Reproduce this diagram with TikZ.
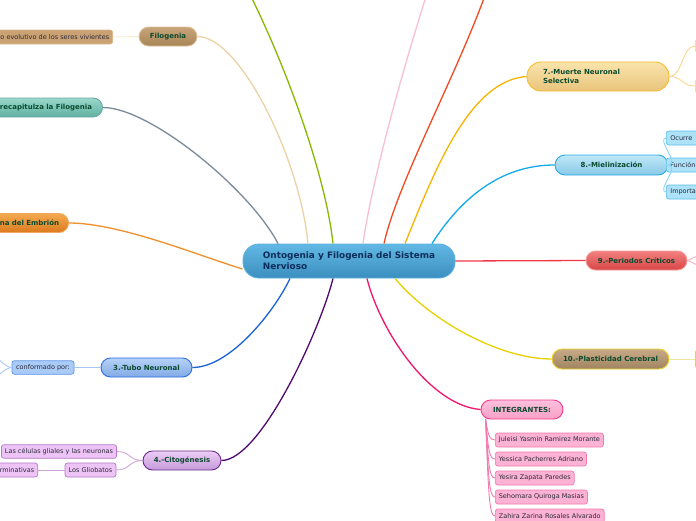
\documentclass[tikz,border=0pt]{standalone}
\usepackage{fontspec}
\setmainfont{DejaVu Sans}
\usetikzlibrary{calc}
\definecolor{tgreen}{HTML}{0B4A2E}
\definecolor{leaftext}{HTML}{2A2A3A}
\definecolor{cT}{HTML}{62B8E4}\definecolor{cB}{HTML}{3B8FC0}\definecolor{cD}{HTML}{5AB0E0}\definecolor{cText}{HTML}{0D2D5A}
\definecolor{filoT}{HTML}{C8A478}\definecolor{filoB}{HTML}{A88658}\definecolor{filoD}{HTML}{DCC09A}
\definecolor{filoL}{HTML}{C9A173}\definecolor{filoLD}{HTML}{DAB88E}
\definecolor{recT}{HTML}{9AD8CC}\definecolor{recB}{HTML}{5EB0A0}\definecolor{recD}{HTML}{70A8A8}
\definecolor{embT}{HTML}{F4AA50}\definecolor{embB}{HTML}{DC7A1E}\definecolor{embD}{HTML}{F0A860}
\definecolor{tubT}{HTML}{B6D2F6}\definecolor{tubB}{HTML}{82AAE6}\definecolor{tubD}{HTML}{2A6EE0}
\definecolor{confF}{HTML}{A9CBF8}\definecolor{confD}{HTML}{5C94E4}
\definecolor{citT}{HTML}{ECCCF6}\definecolor{citB}{HTML}{C69ADA}\definecolor{citD}{HTML}{6A2C8C}
\definecolor{citLF}{HTML}{EEC4F6}\definecolor{citLD}{HTML}{B478C8}
\definecolor{murT}{HTML}{F9E4AC}\definecolor{murB}{HTML}{E9C47C}\definecolor{murD}{HTML}{F8BC28}
\definecolor{murLF}{HTML}{FBE6B4}\definecolor{murLD}{HTML}{F8D488}
\definecolor{mieT}{HTML}{C0E8F8}\definecolor{mieB}{HTML}{88C8E6}\definecolor{mieD}{HTML}{24AAE8}
\definecolor{mieLF}{HTML}{ADE2F8}\definecolor{mieLD}{HTML}{5CBEEA}
\definecolor{perT}{HTML}{F28080}\definecolor{perB}{HTML}{D84646}\definecolor{perD}{HTML}{F49A9A}
\definecolor{plaT}{HTML}{C9AA88}\definecolor{plaB}{HTML}{A08460}\definecolor{plaD}{HTML}{E8D428}
\definecolor{intT}{HTML}{FCC0DC}\definecolor{intB}{HTML}{F8A0C8}\definecolor{intD}{HTML}{F03C8C}
\definecolor{memF}{HTML}{FCB2D4}\definecolor{memD}{HTML}{F27AB0}
\definecolor{lnFilo}{HTML}{ECD2A6}\definecolor{lnRec}{HTML}{7A8A9A}\definecolor{lnEmb}{HTML}{F0902C}
\definecolor{lnTub}{HTML}{1A62D8}\definecolor{lnCit}{HTML}{4E0A6E}\definecolor{lnGreen}{HTML}{88B800}
\definecolor{lnPink}{HTML}{F8C0D0}\definecolor{lnRed}{HTML}{F04A22}\definecolor{lnMur}{HTML}{F8B400}
\definecolor{lnMie}{HTML}{12AAEA}\definecolor{lnPer}{HTML}{F03A4A}\definecolor{lnPla}{HTML}{E8D000}
\definecolor{lnInt}{HTML}{F0166E}
\definecolor{lkFilo}{HTML}{F8EAD2}\definecolor{lkConf}{HTML}{A8C8F4}\definecolor{lkCit}{HTML}{CFA4D8}
\definecolor{lkMur}{HTML}{F8D890}\definecolor{lkMie}{HTML}{88D4F4}\definecolor{lkPer}{HTML}{F8B0C0}
\definecolor{lkPla}{HTML}{F0E8A0}\definecolor{lkMem}{HTML}{F27AB0}
\begin{document}
\begin{tikzpicture}[x=1pt,y=-1pt,
  topic/.style={draw, line width=0.9pt, inner sep=0pt, align=center,
    font=\fontsize{7}{8.8}\selectfont\bfseries, text=tgreen,
    minimum height=19pt, rounded corners=9.5pt},
  leaf/.style={draw, line width=0.7pt, rounded corners=2.5pt, inner sep=0pt,
    inner xsep=3.5pt, minimum height=13.5pt, align=center,
    font=\fontsize{6.5}{7.8}\selectfont, text=leaftext},
  conn/.style={line width=1.3pt},
  lk/.style={line width=0.9pt},
]
\useasboundingbox (0,0) rectangle (696,520);
\clip (0,0) rectangle (696,520);
\fill[white] (0,0) rectangle (696,520);

% central
\node[draw=cD, line width=0.9pt, top color=cT, bottom color=cB, rounded corners=16pt,
  minimum width=212pt, minimum height=34pt, inner sep=0pt, align=left,
  font=\fontsize{8.9}{11.2}\selectfont\bfseries, text=cText]
  (c) at (349,261) {Ontogenia y Filogenia del Sistema\\Nervioso\hphantom{ y Filogenia del Sistema}};

% main topics
\node[topic, minimum width=58pt, top color=filoT, bottom color=filoB, draw=filoD] (filo) at (168,36.5) {Filogenia};
\node[topic, anchor=east, text width=110pt, align=right, inner xsep=10.5pt, top color=recT, bottom color=recB, draw=recD] (recap) at (103,107.5) {recapitulza la Filogenia};
\node[topic, anchor=east, text width=80pt, align=right, inner xsep=9.5pt, top color=embT, bottom color=embB, draw=embD] (embr) at (69,223) {na del Embrión};
\node[topic, minimum width=91pt, top color=tubT, bottom color=tubB, draw=tubD] (tubo) at (146.5,367.5) {3.-Tubo Neuronal};
\node[topic, minimum width=78pt, top color=citT, bottom color=citB, draw=citD] (cito) at (182,460.5) {4.-Citogénesis};
\node[topic, minimum width=142pt, minimum height=29pt, rounded corners=14pt, text width=110pt, align=left, top color=murT, bottom color=murB, draw=murD] (muerte) at (598,76.5) {7.-Muerte Neuronal\\Selectiva};
\node[topic, minimum width=113pt, minimum height=20pt, rounded corners=10pt, top color=mieT, bottom color=mieB, draw=mieD] (mie) at (611.5,165) {8.-Mielinización};
\node[topic, minimum width=101pt, top color=perT, bottom color=perB, draw=perD] (periodos) at (636.5,260.5) {9.-Periodos Críticos};
\node[topic, minimum width=117pt, minimum height=20pt, rounded corners=10pt, top color=plaT, bottom color=plaB, draw=plaD] (plast) at (610.5,359) {10.-Plasticidad Cerebral};
\node[topic, minimum width=82pt, top color=intT, bottom color=intB, draw=intD] (integ) at (522,409.5) {INTEGRANTES:};

% leaves
\node[leaf, anchor=east, text width=130pt, align=right, fill=filoL, draw=filoLD, minimum height=14pt] (filoleaf) at (113,37) {o evolutivo de los seres vivientes};
\node[leaf, minimum width=62pt, fill=confF, draw=confD] (conf) at (43,367.5) {conformado por:};
\node[leaf, minimum width=114pt, fill=citLF, draw=citLD] (glial) at (59,451.5) {Las células gliales y las neuronas};
\node[leaf, minimum width=51pt, minimum height=14pt, fill=citLF, draw=citLD] (glio) at (90.5,470) {Los Gliobatos};
\node[leaf, anchor=east, text width=60pt, align=right, minimum height=14pt, fill=citLF, draw=citLD] (germ) at (38,470) {rminativas};
\node[leaf, anchor=west, text width=44pt, align=left, inner xsep=4pt, minimum height=14pt, fill=mieLF, draw=mieLD] (ocurre) at (666,138) {Ocurre};
\node[leaf, anchor=west, text width=44pt, align=left, inner xsep=4pt, minimum height=14pt, fill=mieLF, draw=mieLD] (funcion) at (666,165) {Función};
\node[leaf, anchor=west, text width=44pt, align=left, inner xsep=4pt, minimum height=14pt, fill=mieLF, draw=mieLD] (importa) at (666,192) {Importa};
\node[leaf, anchor=west, minimum width=40pt, minimum height=13pt, fill=murLF, draw=murLD] (mc1) at (695,46) {};
\node[leaf, anchor=west, minimum width=40pt, minimum height=13pt, fill=murLF, draw=murLD] (mc2) at (695,86) {};
\node[leaf, anchor=west, minimum width=40pt, minimum height=18pt, fill=plaT, draw=plaD] (plc) at (695,359) {};
\node[leaf, anchor=west, minimum height=14pt, fill=memF, draw=memD] (m1) at (495,440) {Juleisi Yasmin Ramirez Morante};
\node[leaf, anchor=west, minimum height=14pt, fill=memF, draw=memD] (m2) at (495,459) {Yessica Pacherres Adriano};
\node[leaf, anchor=west, minimum height=14pt, fill=memF, draw=memD] (m3) at (495,478) {Yesira Zapata Paredes};
\node[leaf, anchor=west, minimum height=14pt, fill=memF, draw=memD] (m4) at (495,497) {Sehomara Quiroga Masias};
\node[leaf, anchor=west, minimum height=14pt, fill=memF, draw=memD] (m5) at (495,516) {Zahira Zarina Rosales Alvarado};

% free ends
\coordinate (t1) at (240,-25);
\coordinate (t2) at (433,-25);
\coordinate (t3) at (492,-25);
\coordinate (cf1) at (-12,350);
\coordinate (cf2) at (-12,384);
\coordinate (pc1) at (702,254);
\coordinate (pc2) at (702,267);
\coordinate (is) at ([xshift=5]integ.south west);

% main connectors
\draw[conn, lnFilo] (filo.east) .. controls +(43,0) and +(-8,-84) .. ([xshift=-41]c.north);
\draw[conn, lnRec] (recap.east) .. controls +(47,0) and +(-28,-54) .. ([xshift=-71]c.north);
\draw[conn, lnGreen] ([xshift=-16]c.north) .. controls +(-8,-74) and +(40,75) .. (t1);
\draw[conn, lnPink] ([xshift=14]c.north) .. controls +(9,-64) and +(-28,85) .. (t2);
\draw[conn, lnRed] ([xshift=35]c.north) .. controls +(14,-64) and +(-27,85) .. (t3);
\draw[conn, lnMur] ([xshift=56]c.north) .. controls +(30,-74) and +(-57,4) .. (muerte.west);
\draw[conn, lnMie] ([xshift=83]c.north) .. controls +(28,-44) and +(-55,0) .. (mie.west);
\draw[conn, lnEmb] (embr.east) .. controls +(51,0) and +(-43,-13) .. ([yshift=-8]c.west);
\draw[conn, lnPer] (c.east) -- (periodos.west);
\draw[conn, lnTub] (tubo.east) .. controls +(38,0) and +(-15,32) .. ([xshift=-59]c.south);
\draw[conn, lnCit] (cito.east) .. controls +(39,0) and +(-13,52) .. ([xshift=-16]c.south);
\draw[conn, lnInt] ([xshift=18]c.south) .. controls +(13,52) and +(-51,-4) .. (integ.west);
\draw[conn, lnPla] ([xshift=46]c.south) .. controls +(35,42) and +(-52,0) .. (plast.west);

% leaf connectors
\draw[lk, lkFilo] (filoleaf.east) -- (filo.west);
\draw[lk, lkConf] (conf.east) -- (tubo.west);
\draw[lk, lkConf] (conf.west) .. controls +(-7,0) and +(5,3) .. (cf1);
\draw[lk, lkConf] (conf.west) .. controls +(-7,0) and +(5,-3) .. (cf2);
\draw[lk, lkCit] (cito.west) .. controls +(-14,0) and +(14,0) .. (glial.east);
\draw[lk, lkCit] (cito.west) .. controls +(-14,0) and +(14,0) .. (glio.east);
\draw[lk, lkCit] (glio.west) -- (germ.east);
\draw[lk, lkMur] (muerte.east) .. controls +(13,0) and +(-13,0) .. (mc1.west);
\draw[lk, lkMur] (muerte.east) .. controls +(13,0) and +(-13,0) .. (mc2.west);
\draw[lk, lkMie] (mie.east) .. controls +(12,0) and +(-10,0) .. (ocurre.west);
\draw[lk, lkMie] (mie.east) -- (funcion.west);
\draw[lk, lkMie] (mie.east) .. controls +(12,0) and +(-10,0) .. (importa.west);
\draw[lk, lkPer] (periodos.east) -- (pc1);
\draw[lk, lkPer] (periodos.east) -- (pc2);
\draw[lk, lkPla] (plast.east) -- (plc.west);
\draw[lk, lkMem] (is) .. controls +(3,16) and +(-6,0) .. (m1.west);
\draw[lk, lkMem] (is) .. controls +(3,30) and +(-6,0) .. (m2.west);
\draw[lk, lkMem] (is) .. controls +(3,44) and +(-6,0) .. (m3.west);
\draw[lk, lkMem] (is) .. controls +(3,58) and +(-6,0) .. (m4.west);
\draw[lk, lkMem] (is) .. controls +(3,73) and +(-6,0) .. (m5.west);
\end{tikzpicture}
\end{document}
